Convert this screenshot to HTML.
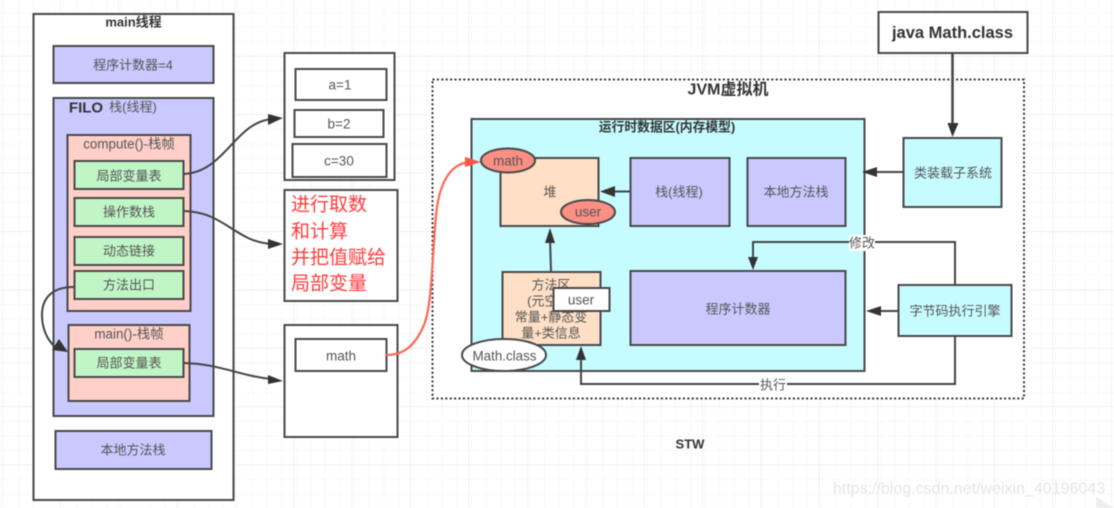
<!DOCTYPE html>
<html lang="zh">
<head>
<meta charset="utf-8">
<title>JVM</title>
<style>
html,body{margin:0;padding:0;background:#fff;width:1114px;height:508px;overflow:hidden}
svg{display:block;filter:blur(.5px)}
text{font-family:"Liberation Sans","Noto Sans CJK SC",sans-serif;font-size:13px;fill:#555;text-anchor:middle;dominant-baseline:central}
.b{font-weight:bold;fill:#333}
.box{stroke:#484848;stroke-width:2}
.w{fill:#fff}.p{fill:#c9c9ff}.r{fill:#ffcfc8}.g{fill:#c0f5c6}.o{fill:#ffe0c6}.c{fill:#c6fbff}.e{fill:#fb8f83}
.ln{fill:none;stroke:#444;stroke-width:2}
.h{fill:#333}
</style>
</head>
<body>
<svg width="1114" height="508" viewBox="0 0 1114 508" xmlns="http://www.w3.org/2000/svg">
<defs>
<pattern id="mn" width="14.6" height="14.6" patternUnits="userSpaceOnUse" x="4.6" y="12.8">
<path d="M14.6 0V14.6M0 14.6H14.6" fill="none" stroke="#f2f2f2" stroke-width="1"/>
</pattern>
<pattern id="mj" width="58.4" height="58.4" patternUnits="userSpaceOnUse" x="2" y="-1.8">
<path d="M58.4 0V58.4M0 58.4H58.4" fill="none" stroke="#e9e9e9" stroke-width="1.2"/>
</pattern>
</defs>
<rect width="1114" height="508" fill="#fff"/>
<rect width="1114" height="508" fill="url(#mn)"/>
<rect width="1114" height="508" fill="url(#mj)"/>

<!-- main thread -->
<rect class="box w" x="33.500" y="14" width="200" height="486"/>
<text class="b" x="133.500" y="22" style="font-size:13px">main线程</text>
<rect class="box p" x="53.500" y="46" width="160" height="37"/>
<text x="133" y="65" style="font-size:13px">程序计数器=4</text>
<rect class="box p" x="53.500" y="98" width="160" height="318"/>
<text class="b" x="86" y="108" style="font-size:15px">FILO</text>
<text x="133" y="107">栈(线程)</text>
<rect class="box r" x="67.500" y="135" width="123" height="176"/>
<text x="129" y="144" style="font-size:13.400px">compute()-栈帧</text>
<rect class="box g" x="74.500" y="161" width="109" height="28"/>
<text x="129" y="176">局部变量表</text>
<rect class="box g" x="74.500" y="198" width="109" height="28"/>
<text x="129" y="212">操作数栈</text>
<rect class="box g" x="74.500" y="237" width="109" height="28"/>
<text x="129" y="251">动态链接</text>
<rect class="box g" x="74.500" y="271" width="109" height="28"/>
<text x="129" y="285">方法出口</text>
<rect class="box r" x="68.500" y="325" width="121" height="76"/>
<text x="129" y="334" style="font-size:13.400px">main()-栈帧</text>
<rect class="box g" x="74.500" y="349" width="109" height="28"/>
<text x="129" y="363">局部变量表</text>
<rect class="box p" x="55.500" y="431" width="156" height="38"/>
<text x="133" y="450">本地方法栈</text>

<!-- locals -->
<rect class="box w" x="284.500" y="53" width="110" height="127"/>
<rect class="box w" x="295.500" y="69" width="91" height="31"/>
<text x="340" y="85" style="font-size:13.500px">a=1</text>
<rect class="box w" x="294.500" y="110" width="89" height="27"/>
<text x="339" y="124" style="font-size:13.500px">b=2</text>
<rect class="box w" x="292.500" y="144" width="94" height="33"/>
<text x="339" y="161" style="font-size:13.500px">c=30</text>

<rect class="box w" x="284.500" y="190" width="113" height="111"/>
<text x="291" y="205" style="font-size:19px;fill:#ff3b3b;text-anchor:start">进行取数</text>
<text x="291" y="232" style="font-size:19px;fill:#ff3b3b;text-anchor:start">和计算</text>
<text x="291" y="258" style="font-size:19px;fill:#ff3b3b;text-anchor:start">并把值赋给</text>
<text x="291" y="284" style="font-size:19px;fill:#ff3b3b;text-anchor:start">局部变量</text>

<rect class="box w" x="284.500" y="325" width="113" height="112"/>
<rect class="box w" x="295.500" y="339" width="91" height="32"/>
<text x="341" y="356" style="font-size:13.500px">math</text>

<!-- JVM -->
<rect x="432.500" y="79.500" width="591.500" height="319" fill="#fff" stroke="#333" stroke-width="2" stroke-dasharray="2 2.4"/>
<text class="b" x="728" y="90" style="font-size:16px">JVM虚拟机</text>
<rect class="box c" x="471.500" y="119" width="393" height="252"/>
<text class="b" x="667" y="127" style="font-size:12.800px">运行时数据区(内存模型)</text>
<rect class="box o" x="500.500" y="158" width="98" height="68"/>
<text x="550" y="192">堆</text>
<rect class="box p" x="630.500" y="158" width="99" height="68"/>
<text x="679" y="192">栈(线程)</text>
<rect class="box p" x="747.500" y="158" width="98" height="68"/>
<text x="796" y="192">本地方法栈</text>
<rect class="box o" x="502.500" y="272" width="98" height="73"/>
<text x="551" y="285">方法区</text>
<text x="551" y="301">(元空间)</text>
<text x="551" y="317">常量+静态变</text>
<text x="551" y="333">量+类信息</text>
<rect class="box w" x="553.500" y="288" width="56" height="23"/>
<text x="581" y="300" style="font-size:13.500px">user</text>
<rect class="box p" x="630.500" y="271" width="215" height="74"/>
<text x="738" y="309">程序计数器</text>
<ellipse class="box e" cx="508" cy="160.500" rx="27" ry="12"/>
<text x="508" y="161" style="font-size:13.500px">math</text>
<ellipse class="box e" cx="588" cy="212" rx="27" ry="12"/>
<text x="588" y="212" style="font-size:13.500px">user</text>
<ellipse class="box w" cx="504" cy="355" rx="42" ry="16"/>
<text x="504.500" y="356" style="font-size:13.400px">Math.class</text>

<rect class="box w" x="878.500" y="12" width="149" height="41"/>
<text class="b" x="952.500" y="33" style="font-size:16.500px">java Math.class</text>
<rect class="box c" x="903.500" y="138" width="98" height="69"/>
<text x="953" y="173">类装载子系统</text>
<rect class="box c" x="898.500" y="285" width="113" height="51"/>
<text x="955" y="311">字节码执行引擎</text>

<!-- connectors -->
<path class="ln" d="M184 174C225 172 235 122 272 119"/>
<path class="h" d="M268 114L283 118L268 125Z"/>
<path class="ln" d="M184 211C225 212 235 242 272 244"/>
<path class="h" d="M268 239L283 244L268 249Z"/>
<path class="ln" d="M74 287C50 287 42 300 42 315C42 332 50 345 60 350"/>
<path class="h" d="M59 339L68 352L52 350Z"/>
<path class="ln" d="M184 363C220 364 240 376 272 379"/>
<path class="h" d="M268 375L283 381L268 384Z"/>
<path d="M386 355C402 355 414 348 424 325C432 305 432 260 436 215C440 175 455 163 470 162" fill="none" stroke="#ff6655" stroke-width="2.200"/>
<path fill="#ff5544" d="M465 157L481 162L465 167Z"/>
<path class="ln" d="M630 191.500H608"/>
<path class="h" d="M600 191.500L615 186V197Z"/>
<path class="ln" d="M551 272L550 238"/>
<path class="h" d="M550 228L555 243H545Z"/>
<path class="ln" d="M952.500 53V128" style="stroke-width:2.500"/>
<path class="h" d="M947.500 123H958.500L952.500 137Z"/>
<path class="ln" d="M903 172H868"/>
<path class="h" d="M862 172L877 167V177Z"/>
<path class="ln" d="M898 311H872"/>
<path class="h" d="M866 311L881 306V316Z"/>
<path class="ln" d="M955 285V242H753V262"/>
<path class="h" d="M748 257H758L753 270Z"/>
<path class="ln" d="M955 336V384H581V355"/>
<path class="h" d="M576 360L581 346L586 360Z"/>
<rect x="849" y="235" width="26" height="16" fill="#fff"/>
<text x="862" y="243">修改</text>
<rect x="759" y="377" width="28" height="16" fill="#fff"/>
<text x="773" y="385">执行</text>

<text class="b" x="690" y="444" style="font-size:13px">STW</text>
<text x="969" y="489" style="font-size:16px;fill:#e6e6e6">https://blog.csdn.net/weixin_40196043</text>
<path d="M1096 497L1114 508H1096Z" fill="#eee"/>
</svg>
</body>
</html>
